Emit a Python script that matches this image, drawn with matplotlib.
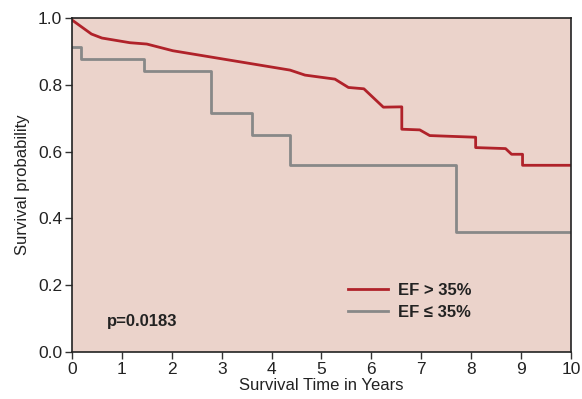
import matplotlib
matplotlib.use("Agg")
import matplotlib.pyplot as plt

# EF > 35% (piecewise KM estimate as drawn)
red_t = [0.0, 0.39, 0.6, 1.16, 1.5, 2.02, 4.37, 4.67, 5.27, 5.54, 5.85, 6.24, 6.61, 6.61, 6.97, 7.17, 8.09, 8.09, 8.69, 8.81, 9.03, 9.03, 10.0]
red_s = [0.994, 0.952, 0.94, 0.926, 0.922, 0.902, 0.844, 0.829, 0.817, 0.792, 0.788, 0.733, 0.734, 0.667, 0.665, 0.648, 0.643, 0.612, 0.609, 0.592, 0.592, 0.559, 0.559]

# EF <= 35% (step function)
gray_t = [0.0, 0.19, 1.44, 2.79, 3.61, 4.36, 7.70, 10.0]
gray_s = [0.914, 0.876, 0.841, 0.717, 0.650, 0.559, 0.360, 0.360]

xticks = list(range(0, 11))
yticks = [0.0, 0.2, 0.4, 0.6, 0.8, 1.0]
ytick_labels = ["0.0", "0.2", "0.4", "0.6", "0.8", "1.0"]

plt.rcParams['font.family'] = ['Liberation Sans', 'DejaVu Sans']

fig = plt.figure(figsize=(5.82, 3.99), dpi=100)
ax = fig.add_axes([0.1237, 0.1178, 0.981 - 0.1237, 0.9549 - 0.1178])
ax.set_facecolor('#EBD3CB')

red = '#B0222A'
gray = '#888888'
ax.plot(red_t, red_s, color=red, lw=2.0, label='EF > 35%')
ax.step(gray_t, gray_s, where='post', color=gray, lw=2.0, label='EF ≤ 35%')

ax.set_xlim(0, 10)
ax.set_ylim(0, 1.0)
ax.set_xticks(xticks)
ax.set_yticks(yticks)
ax.set_yticklabels(ytick_labels)
ax.tick_params(direction='out', length=5, width=1, labelsize=12.5, color='#333333', labelcolor='#222222', pad=2)
for s in ax.spines.values():
    s.set_color('#222222')
    s.set_linewidth(1.2)

ax.set_xlabel('Survival Time in Years', fontsize=12, labelpad=1, color='#222222')
ax.set_ylabel('Survival probability', fontsize=12, labelpad=6, color='#222222')

ax.text(0.7, 0.09, 'p=0.0183', fontsize=12, fontweight='bold', color='#222222', va='center')

leg = ax.legend(loc='center left', bbox_to_anchor=(0.553, 0.151), frameon=False,
                prop={'size': 12, 'weight': 'bold'}, handlelength=2.4,
                handletextpad=0.6, labelspacing=0.45, borderpad=0, borderaxespad=0)
for t in leg.get_texts():
    t.set_color('#222222')

fig.savefig('out.png', dpi=100)
